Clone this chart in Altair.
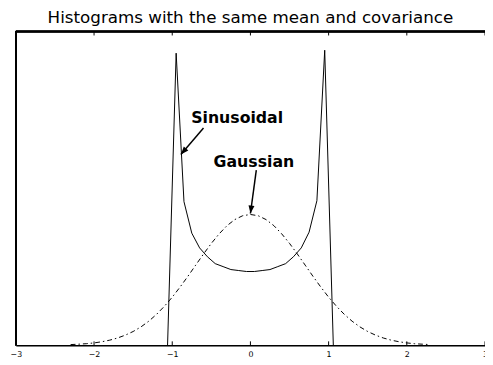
import altair as alt
import pandas as pd

title_text = "Histograms with the same mean and covariance"

# Sinusoidal histogram (bin centres, heights)
sin_x = [-1.06, -0.95, -0.85, -0.75, -0.65, -0.55, -0.45, -0.35, -0.25, -0.15, -0.05,
         0.05, 0.15, 0.25, 0.35, 0.45, 0.55, 0.65, 0.75, 0.85, 0.95, 1.06]
sin_h = [0, 297, 146, 114, 99, 90, 83, 80, 77, 76, 75,
         75, 76, 77, 80, 83, 90, 99, 115, 147, 300, 0]

# Gaussian histogram
gauss_x = [-2.3, -2.2, -2.1, -2.0, -1.9, -1.8, -1.7, -1.6, -1.5, -1.4, -1.3, -1.2,
           -1.1, -1.0, -0.9, -0.8, -0.7, -0.6, -0.5, -0.4, -0.3, -0.2, -0.1, 0.0,
           0.1, 0.2, 0.3, 0.4, 0.5, 0.6, 0.7, 0.8, 0.9, 1.0, 1.1, 1.2,
           1.3, 1.4, 1.5, 1.6, 1.7, 1.8, 1.9, 2.0, 2.1, 2.2, 2.3]
gauss_h = [0.7, 1.1, 1.6, 2.4, 3.6, 5.2, 7.4, 10.3, 14.0, 18.7, 24.5, 31.5,
           39.7, 48.9, 59.2, 70.1, 81.5, 92.8, 103.6, 113.3, 121.6, 127.8, 131.7, 133.0,
           131.7, 127.8, 121.6, 113.3, 103.6, 92.8, 81.5, 70.1, 59.2, 48.9, 39.7, 31.5,
           24.5, 18.7, 14.0, 10.3, 7.4, 5.2, 3.6, 2.4, 1.6, 1.1, 0.7]

tick_values = [-3, -2, -1, 0, 1, 2, 3]

# annotations
ann_text = ["Sinusoidal", "Gaussian"]
ann_x = [-0.17, 0.044]
ann_h = [226, 181]
arrow_x0 = [-0.60, 0.075]
arrow_h0 = [221, 178]
arrow_x1 = [-0.89, 0.0]
arrow_h1 = [194, 134]
arrow_angle = [221.6, 187.8]

W, H = 477, 319
FONT = "DejaVu Sans"

xs = alt.Scale(domain=[-3, 3], nice=False, zero=False)
ys = alt.Scale(domain=[0, 319], nice=False, zero=False)

sin_df = pd.DataFrame({"x": sin_x, "h": sin_h})
gauss_df = pd.DataFrame({"x": gauss_x, "h": gauss_h})
ticks_df = pd.DataFrame({"t": tick_values})
ann_df = pd.DataFrame({"label": ann_text, "x": ann_x, "h": ann_h})
arr_df = pd.DataFrame({"x0": arrow_x0, "h0": arrow_h0, "x1": arrow_x1,
                       "h1": arrow_h1, "ang": arrow_angle})

xaxis = alt.Axis(values=tick_values, format="d", title=None, grid=False, ticks=False,
                 tickSize=0, domain=True, domainColor="black", domainWidth=1.5,
                 labelFont=FONT, labelFontSize=8, labelColor="black", labelPadding=5,
                 labelFlush=False)

gauss = alt.Chart(gauss_df).mark_line(color="black", strokeWidth=1,
                                      strokeDash=[5, 3, 1.5, 3]).encode(
    x=alt.X("x:Q", scale=xs, axis=xaxis),
    y=alt.Y("h:Q", scale=ys, axis=None),
)

sinus = alt.Chart(sin_df).mark_line(color="black", strokeWidth=1).encode(
    x=alt.X("x:Q", scale=xs),
    y=alt.Y("h:Q", scale=ys),
)

top_border = alt.Chart(ticks_df).mark_rule(color="black", strokeWidth=1.5).encode(
    x=alt.value(0), x2=alt.value(W), y=alt.value(0))
left_border = alt.Chart(ticks_df).mark_rule(color="black", strokeWidth=1.5).encode(
    x=alt.value(0), y=alt.value(0), y2=alt.value(H))

bottom_ticks = alt.Chart(ticks_df).mark_rule(color="black", strokeWidth=1).encode(
    x=alt.X("t:Q", scale=xs), y=alt.value(H), y2=alt.value(H - 4))
top_ticks = alt.Chart(ticks_df).mark_rule(color="black", strokeWidth=1).encode(
    x=alt.X("t:Q", scale=xs), y=alt.value(0), y2=alt.value(4))

arrows = alt.Chart(arr_df).mark_rule(color="black", strokeWidth=1.5).encode(
    x=alt.X("x0:Q", scale=xs), y=alt.Y("h0:Q", scale=ys),
    x2="x1:Q", y2="h1:Q")
heads = alt.Chart(arr_df).mark_point(
    shape="M0,0L-0.38,1L0.38,1Z", filled=True, color="black", opacity=1,
    size=256, strokeWidth=0).encode(
    x=alt.X("x1:Q", scale=xs), y=alt.Y("h1:Q", scale=ys),
    angle=alt.Angle("ang:Q", scale=None))

labels = alt.Chart(ann_df).mark_text(font=FONT, fontSize=16, fontWeight="bold",
                                     color="black", align="center",
                                     baseline="alphabetic").encode(
    x=alt.X("x:Q", scale=xs), y=alt.Y("h:Q", scale=ys), text="label:N")

chart = alt.layer(gauss, sinus, top_border, left_border, bottom_ticks, top_ticks,
                  arrows, heads, labels).properties(
    width=W, height=H,
    title=alt.TitleParams(title_text, font=FONT, fontSize=17, fontWeight="normal",
                          color="black", anchor="middle", offset=4),
    autosize=alt.AutoSizeParams(type="none"),
    padding={"left": 8, "top": 21, "right": 0, "bottom": 10},
).configure_view(stroke=None).configure(background="white")

chart.save("out.html", embed_options={"renderer": "svg", "actions": False})
